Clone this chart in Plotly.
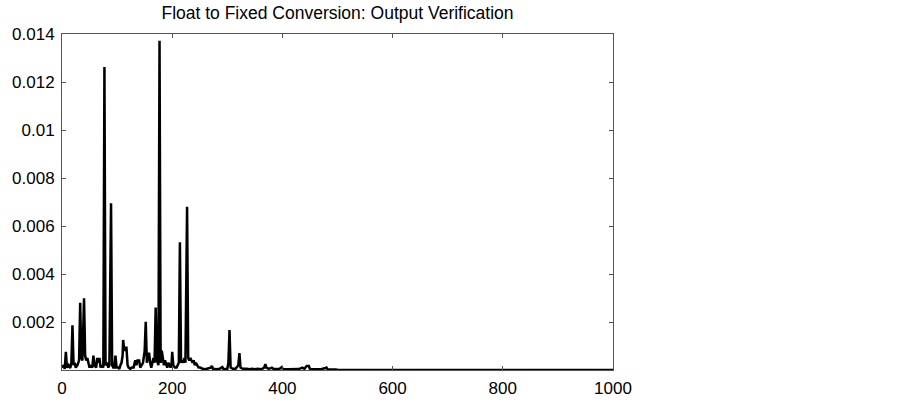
import plotly.graph_objects as go

# sample index and absolute error between float and fixed output
sample_index = [
    0, 3, 5, 7, 9, 12, 15, 17, 19, 21, 23, 25, 28, 31, 33, 35, 37, 40, 42, 44,
    46, 48, 50, 52, 55, 57, 59, 62, 64, 66, 68, 70, 72, 75, 77, 79, 82, 84, 86, 89,
    91, 93, 95, 97, 99, 102, 104, 106, 108, 110, 111, 113, 115, 117, 119, 121, 124, 127, 130, 133,
    135, 137, 140, 142, 145, 147, 150, 152, 154, 156, 158, 160, 162, 164, 166, 168, 170, 172, 175, 177,
    179, 181, 183, 185, 187, 189, 191, 193, 195, 197, 199, 200, 202, 205, 208, 210, 212, 214, 216, 218,
    220, 222, 224, 227, 229, 231, 233, 235, 237, 239, 241, 243, 245, 248, 251, 255, 260, 265, 270, 272,
    274, 280, 286, 291, 293, 300, 302, 304, 306, 310, 315, 320, 322, 324, 328, 335, 340, 345, 350, 355,
    362, 367, 369, 371, 375, 379, 381, 384, 390, 395, 399, 401, 410, 420, 430, 436, 440, 444, 446, 448,
    450, 460, 470, 478, 480, 482, 490, 494, 497, 500, 600, 700, 800, 900, 1000,
]
abs_error = [
    0.0001, 0.0002, 0.00005, 0.00076, 0.0001, 0.0002, 0.00008, 0.0003, 0.00186, 0.0002,
    0.0003, 0.0001, 0.0002, 0.0004, 0.0028, 0.0005, 0.0004, 0.00299, 0.0006, 0.0004,
    0.0005, 0.0002, 0.0001, 0.0002, 0.0001, 0.0006, 0.0002, 0.0001, 0.0005, 0.0003,
    0.0005, 0.0001, 0.0002, 0.0001, 0.01262, 0.0002, 0.0003, 0.0001, 0.0002, 0.00695,
    0.0002, 0.0001, 0.0001, 0.0006, 0.0001, 0.0001, 0.00005, 0.0002, 0.0003, 0.0006,
    0.00125, 0.0008, 0.00093, 0.00093, 0.0002, 0.0001, 0.00005, 0.0001, 0.0001, 0.0004,
    0.0002, 0.0004, 0.0004, 0.0001, 0.0002, 0.0003, 0.0008, 0.00201, 0.0003, 0.0005,
    0.00072, 0.0003, 0.0001, 0.0003, 0.0005, 0.0003, 0.0026, 0.0004, 0.0002, 0.01372,
    0.0003, 0.0008, 0.0005, 0.0002, 0.0004, 0.0002, 0.0001, 0.0003, 0.0002, 0.0001,
    0.0003, 0.00076, 0.0002, 0.0001, 0.0001, 0.0002, 0.0003, 0.00532, 0.0003, 0.0004,
    0.0003, 0.0005, 0.0003, 0.0068, 0.0005, 0.0004, 0.0005, 0.0004, 0.0003, 0.0004,
    0.0002, 0.0003, 0.0002, 0.0001, 0.0001, 0.00005, 0.00003, 0.00005, 0.0001, 0.00017,
    0.00005, 0.00003, 0.00005, 0.00012, 0.00003, 0.00005, 0.0003, 0.00167, 0.0001, 0.00005,
    0.00005, 0.0002, 0.0007, 0.0001, 0.00005, 0.00005, 0.00003, 0.00005, 0.00003, 0.00005,
    0.00003, 0.0001, 0.00024, 0.0001, 0.00005, 0.00008, 0.0001, 0.00004, 0.00003, 0.00005,
    0.00012, 0.00003, 0.00003, 0.00002, 0.00004, 0.0001, 0.00005, 0.00017, 0.00016, 0.00017,
    0.00004, 0.00002, 0.00003, 0.00008, 0.0001, 0.00003, 0.00003, 0.00005, 0.00002, 0.00001,
    0.0, 0.0, 0.0, 0.0, 0.0,
]

x_ticks = [0, 200, 400, 600, 800, 1000]
y_ticks = [0.002, 0.004, 0.006, 0.008, 0.01, 0.012, 0.014]
y_labels = ["0.002", "0.004", "0.006", "0.008", "0.01", "0.012", "0.014"]

fig = go.Figure(
    go.Scatter(
        x=sample_index, y=abs_error, mode="lines",
        line=dict(color="black", width=2.5),
        showlegend=False, hoverinfo="skip"
    )
)

axis_style = dict(
    showgrid=False, zeroline=False, automargin=False,
    showline=True, linecolor="#555555", linewidth=1, mirror="ticks",
    ticks="inside", ticklen=4, tickcolor="#555555",
    tickfont=dict(family="Liberation Sans, Arial", size=17, color="black"),
)

fig.update_xaxes(
    range=[0, 1000], tickvals=x_ticks, ticktext=[str(t) for t in x_ticks],
    ticklabelstandoff=3, **axis_style
)
fig.update_yaxes(
    range=[0, 0.014], tickvals=y_ticks, ticktext=y_labels,
    ticklabelstandoff=3, **axis_style
)

fig.update_layout(
    width=903, height=401,
    plot_bgcolor="white", paper_bgcolor="white",
    margin=dict(l=62, r=290, t=34, b=31),
    title=dict(
        text="Float to Fixed Conversion: Output Verification",
        x=(62 + 613) / 2 / 903, xanchor="center",
        y=1 - 13 / 401, yanchor="middle",
        font=dict(family="Liberation Sans, Arial", size=17.5, color="black")
    ),
)

# drop the browser's default 8px body margin so the figure sits at the window corner
fig.write_html(
    "out.html",
    config={"displayModeBar": False},
    post_script="document.body.style.margin = '0';"
)
